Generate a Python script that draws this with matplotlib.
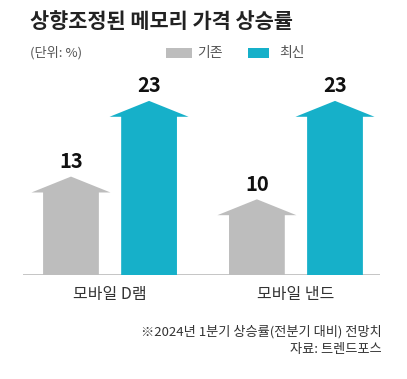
import matplotlib
matplotlib.use("Agg")
import matplotlib.pyplot as plt
from matplotlib.patches import Polygon, Rectangle

plt.rcParams['font.family'] = ['Noto Sans CJK KR', 'DejaVu Sans']

categories = ["모바일 D램", "모바일 낸드"]
series_names = ["기존", "최신"]
prev_values = [13, 10]
new_values = [23, 23]
title = "상향조정된 메모리 가격 상승률"
unit = "(단위: %)"
note1 = "※2024년 1분기 상승률(전분기 대비) 전망치"
note2 = "자료: 트렌드포스"

colors = ["#bdbdbd", "#16b0c9"]
W, H = 407, 379
fig = plt.figure(figsize=(W / 100, H / 100), dpi=100)

# axes in pixel coordinates: x 23..380, y baseline 275, top 70
ax_l, ax_r, ax_b, ax_t = 23, 380, 275, 70
ax = fig.add_axes([ax_l / W, 1 - ax_b / H, (ax_r - ax_l) / W, (ax_b - ax_t) / H])
ppu = 7.57
ax.set_ylim(0, (ax_b - ax_t) / ppu)
ax.set_xlim(-0.468, 1.452)
ax.axis('off')
ax.axhline(0, color="#bbbbbb", lw=1.2, zorder=1)

offset = 0.21
body_w = 0.30
head_w = 0.425
head_h = 2.1

def arrow(xc, v, color):
    pts = [(xc - body_w / 2, 0), (xc - body_w / 2, v - head_h),
           (xc - head_w / 2, v - head_h), (xc, v),
           (xc + head_w / 2, v - head_h), (xc + body_w / 2, v - head_h),
           (xc + body_w / 2, 0)]
    ax.add_patch(Polygon(pts, closed=True, facecolor=color, edgecolor='none', zorder=2))

for i, cat in enumerate(categories):
    for j, vals in enumerate([prev_values, new_values]):
        xc = i + (j - 0.5) * 2 * offset
        v = vals[i]
        arrow(xc, v, colors[j])
        ax.text(xc, v + 0.6, str(v), ha='center', va='bottom', fontsize=14.5,
                fontweight='bold', color='#111111')
    ax.text(i, -1.4, cat, ha='center', va='top', fontsize=11.5, color='#333333',
            clip_on=False)

def px(x, y):
    return x / W, 1 - y / H

fig.text(*px(30, 21), title, fontsize=15, fontweight='bold', color='#222222',
         ha='left', va='center')
fig.text(*px(30, 53), unit, fontsize=9.5, color='#555555', ha='left', va='center')

# legend
leg = [(166, 192, 197), (248, 269, 279)]
for (x0, x1, tx), name, c in zip(leg, series_names, colors):
    fig.patches.append(Rectangle(px(x0, 58), (x1 - x0) / W, 10 / H,
                                 transform=fig.transFigure, facecolor=c,
                                 edgecolor='none'))
    fig.text(*px(tx, 53), name, fontsize=10, color='#555555', ha='left', va='center')

fig.text(*px(382, 332), note1, fontsize=9.5, color='#333333', ha='right', va='center')
fig.text(*px(382, 349), note2, fontsize=9.5, color='#333333', ha='right', va='center')

fig.savefig("out.png", dpi=100, facecolor='white')
